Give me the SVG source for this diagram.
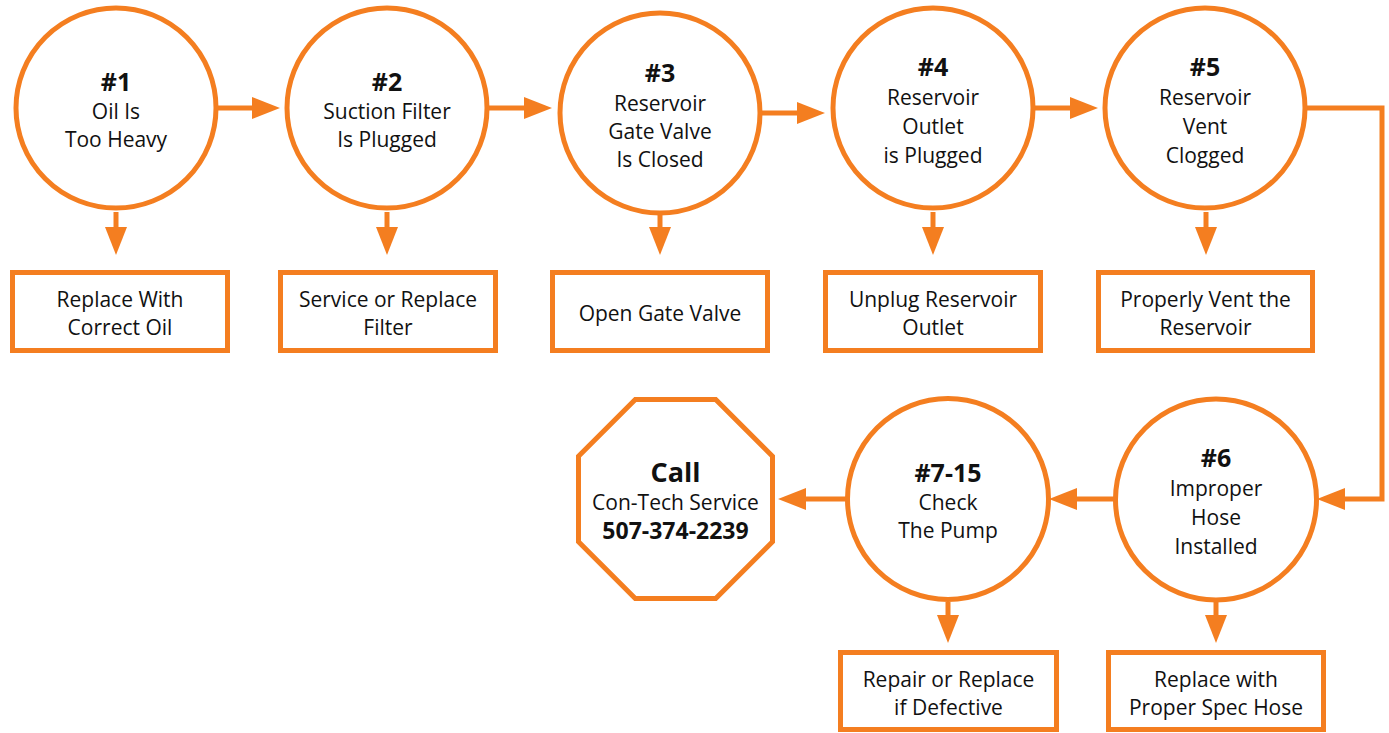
<svg xmlns="http://www.w3.org/2000/svg" width="1389" height="733" viewBox="0 0 1389 733">
<style>
.node{fill:#fff;stroke:#F47E20;stroke-width:5}
.conn{fill:none;stroke:#F47E20;stroke-width:5;marker-end:url(#ah)}
text{font-family:"Open Sans","Liberation Sans",sans-serif;font-size:21px;fill:#111;text-anchor:middle}
.t{font-weight:bold;font-size:25px}
.call{font-weight:bold;font-size:27px}
.ph{font-weight:bold;font-size:23px}
</style>
<defs>
<marker id="ah" viewBox="0 0 28 22" refX="1" refY="11" markerWidth="28" markerHeight="22" markerUnits="userSpaceOnUse" orient="auto">
<path d="M0,0 L28,11 L0,22 Z" fill="#F47E20"/>
</marker>
</defs>
<rect width="1389" height="733" fill="#fff"/>
<g id="connectors">
<path class="conn" d="M216,108 H253"/>
<path class="conn" d="M488,108 H525"/>
<path class="conn" d="M762,113 H798"/>
<path class="conn" d="M1034,108 H1071"/>
<path class="conn" d="M1306,108 H1382 V499 H1344" stroke-linejoin="miter"/>
<path class="conn" d="M1114,499 H1076"/>
<path class="conn" d="M846,499 H805"/>
<path class="conn" d="M116,212 V228"/>
<path class="conn" d="M387,212 V228"/>
<path class="conn" d="M660,214 V228"/>
<path class="conn" d="M933,212 V228"/>
<path class="conn" d="M1206,212 V228"/>
<path class="conn" d="M948,602 V616"/>
<path class="conn" d="M1216,602 V616"/>
</g>
<g id="n1"><circle class="node" cx="116" cy="108" r="100"/>
<text class="t" x="116" y="91">#1</text><text x="116" y="119">Oil Is</text><text x="116" y="147">Too Heavy</text></g>
<g id="n2"><circle class="node" cx="387" cy="108" r="100"/>
<text class="t" x="387" y="91">#2</text><text x="387" y="119">Suction Filter</text><text x="387" y="147">Is Plugged</text></g>
<g id="n3"><circle class="node" cx="660" cy="113" r="100"/>
<text class="t" x="660" y="82">#3</text><text x="660" y="111">Reservoir</text><text x="660" y="139">Gate Valve</text><text x="660" y="167">Is Closed</text></g>
<g id="n4"><circle class="node" cx="933" cy="108" r="100"/>
<text class="t" x="933" y="76">#4</text><text x="933" y="105">Reservoir</text><text x="933" y="134">Outlet</text><text x="933" y="163">is Plugged</text></g>
<g id="n5"><circle class="node" cx="1205" cy="108" r="100"/>
<text class="t" x="1205" y="76">#5</text><text x="1205" y="105">Reservoir</text><text x="1205" y="134">Vent</text><text x="1205" y="163">Clogged</text></g>
<g id="n6"><circle class="node" cx="1216" cy="499.5" r="100.5"/>
<text class="t" x="1216" y="467">#6</text><text x="1216" y="496">Improper</text><text x="1216" y="525">Hose</text><text x="1216" y="554">Installed</text></g>
<g id="n7"><circle class="node" cx="948" cy="499" r="100.5"/>
<text class="t" x="948" y="482">#7-15</text><text x="948" y="510">Check</text><text x="948" y="538">The Pump</text></g>
<g id="call"><polygon class="node" points="635.3,399.5 715.7,399.5 772.5,456.3 772.5,541.7 715.7,598.5 635.3,598.5 578.5,541.7 578.5,456.3"/>
<text class="call" x="675.5" y="482">Call</text><text x="675.5" y="510">Con-Tech Service</text><text class="ph" x="675.5" y="539">507-374-2239</text></g>
<g id="b1"><rect class="node" x="12.5" y="272.5" width="215" height="78"/>
<text x="120" y="307">Replace With</text><text x="120" y="335">Correct Oil</text></g>
<g id="b2"><rect class="node" x="280.5" y="272.5" width="215" height="78"/>
<text x="388" y="307">Service or Replace</text><text x="388" y="335">Filter</text></g>
<g id="b3"><rect class="node" x="552.5" y="272.5" width="215" height="78"/>
<text x="660" y="321">Open Gate Valve</text></g>
<g id="b4"><rect class="node" x="825.5" y="272.5" width="215" height="78"/>
<text x="933" y="307">Unplug Reservoir</text><text x="933" y="335">Outlet</text></g>
<g id="b5"><rect class="node" x="1098.5" y="272.5" width="214" height="78"/>
<text x="1205.5" y="307">Properly Vent the</text><text x="1205.5" y="335">Reservoir</text></g>
<g id="b7"><rect class="node" x="840.5" y="652.5" width="216" height="77"/>
<text x="948.5" y="687">Repair or Replace</text><text x="948.5" y="715">if Defective</text></g>
<g id="b6"><rect class="node" x="1108.5" y="652.5" width="215" height="77"/>
<text x="1216" y="687">Replace with</text><text x="1216" y="715">Proper Spec Hose</text></g>
</svg>
